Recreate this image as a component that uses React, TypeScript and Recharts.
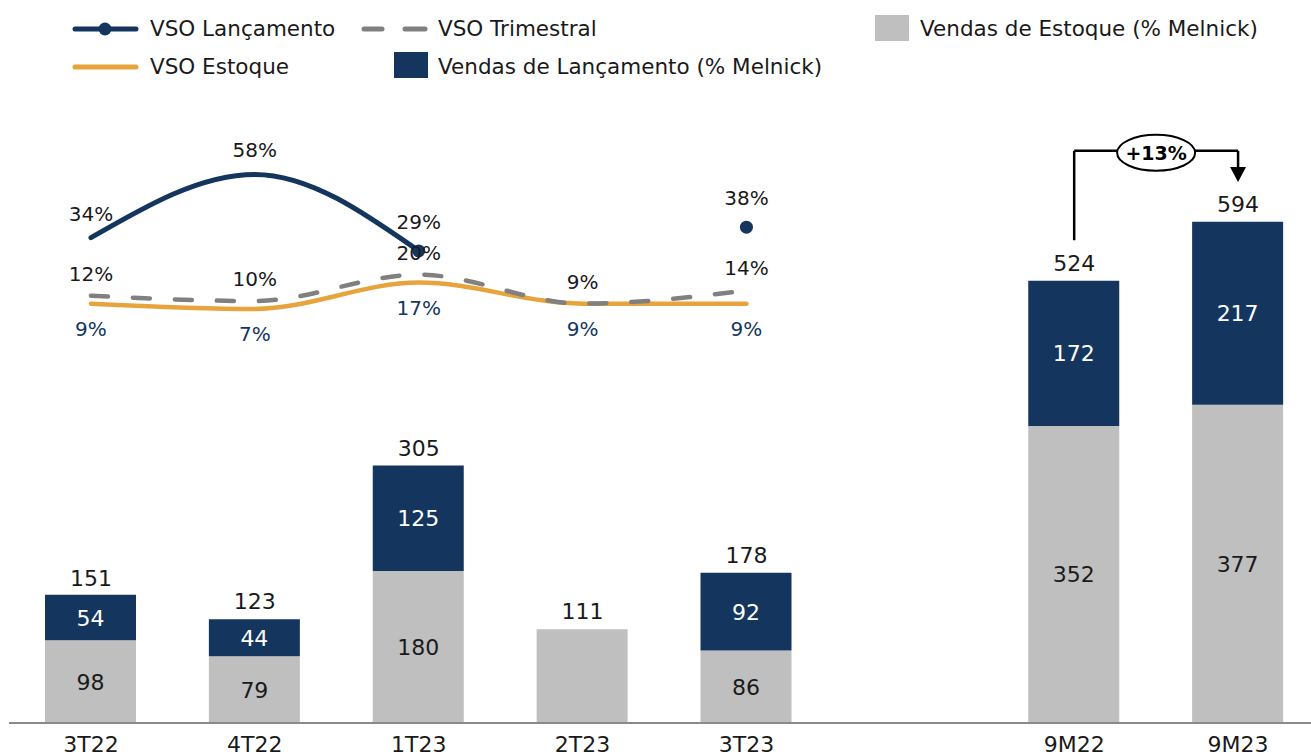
import React from 'react';
import { ComposedChart, Bar, Line, XAxis, YAxis, LabelList, ReferenceLine } from 'recharts';

const categories = ['3T22', '4T22', '1T23', '2T23', '3T23', ' ', '9M22', '9M23'];
const vendasEstoque = [98, 79, 180, 111, 86, null, 352, 377];
const vendasLancamento = [54, 44, 125, null, 92, null, 172, 217];
const totals = [151, 123, 305, 111, 178, null, 524, 594];
const vsoLancamento = [34, 58, 29, null, 38, null, null, null];
const vsoTrimestral = [12, 10, 20, 9, 14, null, null, null];
const vsoEstoque = [9, 7, 17, 9, 9, null, null, null];

const NAVY = '#14365E';
const GRAY_BAR = '#BFBFBF';
const DASH_GRAY = '#808080';
const ORANGE = '#E8A43C';
const TEXT = '#1a1a1a';
const FONT = '"DejaVu Sans", sans-serif';

const data = categories.map((c, i) => ({
  cat: c,
  estoque: vendasEstoque[i],
  // inside label of the stock segment is shown only when the bar is stacked
  estoqueInside: vendasLancamento[i] != null ? vendasEstoque[i] : null,
  lanc: vendasLancamento[i],
  total: totals[i],
  vsoL: vsoLancamento[i],
  vsoT: vsoTrimestral[i],
  vsoE: vsoEstoque[i],
}));

// annotation (bar-axis units)
const fromIdx = categories.indexOf('9M22');
const toIdx = categories.indexOf('9M23');
const growth = Math.round((totals[toIdx]! / totals[fromIdx]! - 1) * 100);
const BRACKET_START = 572;
const BRACKET_TOP = 678;
const ARROW_TIP = 641;

const Tick = (props: any) => {
  const { x, y, payload } = props;
  return (
    <text x={x} y={y + 29} textAnchor="middle" fill={TEXT} fontSize={22} fontFamily={FONT}>
      {String(payload.value).trim()}
    </text>
  );
};

const insideLabel = (color: string) => (props: any) => {
  const { x, y, width, height, value } = props;
  if (value == null) return null;
  return (
    <text x={x + width / 2} y={y + height / 2 + 8} textAnchor="middle" fill={color} fontSize={22} fontFamily={FONT}>
      {value}
    </text>
  );
};

const totalLabel = (props: any) => {
  const { x, y, value } = props;
  if (value == null) return null;
  return (
    <text x={x} y={y - 10} textAnchor="middle" fill={TEXT} fontSize={22} fontFamily={FONT}>
      {value}
    </text>
  );
};

const hasDot = (i: number) => vsoLancamento[i] != null && vsoLancamento[i + 1] == null;

const lancLabel = (props: any) => {
  const { x, y, value, index } = props;
  if (value == null) return null;
  const off = hasDot(index) ? 22 : 17;
  return (
    <text x={x} y={y - off} textAnchor="middle" fill={TEXT} fontSize={20} fontFamily={FONT}>
      {value}%
    </text>
  );
};

const triLabel = (props: any) => {
  const { x, y, value } = props;
  if (value == null) return null;
  return (
    <text x={x} y={y - 15} textAnchor="middle" fill={TEXT} fontSize={20} fontFamily={FONT}>
      {value}%
    </text>
  );
};

const estLabel = (props: any) => {
  const { x, y, value } = props;
  if (value == null) return null;
  return (
    <text x={x} y={y + 32} textAnchor="middle" fill={NAVY} fontSize={20} fontFamily={FONT}>
      {value}%
    </text>
  );
};

const lancDot = (props: any) => {
  const { cx, cy, index } = props;
  if (cy == null || !hasDot(index)) return <g key={`d${index}`} />;
  return <circle key={`d${index}`} cx={cx} cy={cy} r={6.5} fill={NAVY} />;
};

const topShape = (p: any) => {
  const { x1, y1, x2, y2 } = p;
  const cx = (x1 + x2) / 2;
  return (
    <g>
      <line x1={x1} y1={y1} x2={x2} y2={y2} stroke="#000" strokeWidth={2.5} />
      <ellipse cx={cx} cy={y1 + 2} rx={39} ry={18} fill="#fff" stroke="#000" strokeWidth={2} />
      <text x={cx} y={y1 + 9} textAnchor="middle" fontWeight="bold" fontSize={19} fill="#000" fontFamily={FONT}>
        +{growth}%
      </text>
    </g>
  );
};

const arrowShape = (p: any) => {
  const { x1, y1, x2, y2 } = p;
  const head = 15;
  return (
    <g>
      <line x1={x1} y1={y1} x2={x2} y2={y2 - head} stroke="#000" strokeWidth={2.5} />
      <polygon points={`${x2 - 8},${y2 - head} ${x2 + 8},${y2 - head} ${x2},${y2}`} fill="#000" />
    </g>
  );
};

const Legend = () => {
  const txt = { position: 'absolute' as const, fontFamily: FONT, fontSize: 21.5, color: TEXT, whiteSpace: 'nowrap' as const, lineHeight: '24px' };
  return (
    <div style={{ position: 'absolute', left: 0, top: 0, width: 1311, height: 90 }}>
      <svg width={1311} height={90} style={{ position: 'absolute', left: 0, top: 0 }}>
        <line x1={75} y1={29} x2={136} y2={29} stroke={NAVY} strokeWidth={5} strokeLinecap="round" />
        <circle cx={105} cy={29} r={6.5} fill={NAVY} />
        <line x1={364} y1={29} x2={382} y2={29} stroke={DASH_GRAY} strokeWidth={5} strokeLinecap="round" />
        <line x1={405} y1={29} x2={425} y2={29} stroke={DASH_GRAY} strokeWidth={5} strokeLinecap="round" />
        <rect x={875} y={15} width={34} height={26} fill={GRAY_BAR} />
        <line x1={75} y1={67} x2={136} y2={67} stroke={ORANGE} strokeWidth={5} strokeLinecap="round" />
        <rect x={394} y={52} width={34} height={26} fill={NAVY} />
      </svg>
      <div style={{ ...txt, left: 150, top: 17 }}>VSO Lançamento</div>
      <div style={{ ...txt, left: 438, top: 17 }}>VSO Trimestral</div>
      <div style={{ ...txt, left: 920, top: 17 }}>Vendas de Estoque (% Melnick)</div>
      <div style={{ ...txt, left: 150, top: 55 }}>VSO Estoque</div>
      <div style={{ ...txt, left: 438, top: 55 }}>Vendas de Lançamento (% Melnick)</div>
    </div>
  );
};

export default function App() {
  return (
    <div style={{ position: 'absolute', left: 0, top: 0, width: 1311, height: 756, overflow: 'hidden', background: '#fff' }}>
      <Legend />
      <div style={{ position: 'absolute', left: 0, top: 0 }}>
        <ComposedChart width={1321} height={756} data={data} margin={{ top: 90, right: 1, bottom: 0, left: 9 }}>
          <XAxis
            dataKey="cat"
            height={33}
            tickSize={0}
            tickMargin={0}
            tickLine={false}
            axisLine={{ stroke: '#8a8a8a', strokeWidth: 2 }}
            tick={<Tick />}
            interval={0}
          />
          <YAxis yAxisId="bar" hide domain={[0, 750]} />
          <YAxis yAxisId="line" hide domain={[-150, 90]} />
          <Bar yAxisId="bar" dataKey="estoque" stackId="a" fill={GRAY_BAR} barSize={91} isAnimationActive={false}>
            <LabelList dataKey="estoqueInside" content={insideLabel(TEXT)} />
          </Bar>
          <Bar yAxisId="bar" dataKey="lanc" stackId="a" fill={NAVY} barSize={91} isAnimationActive={false}>
            <LabelList dataKey="lanc" content={insideLabel('#ffffff')} />
          </Bar>
          <Line yAxisId="bar" dataKey="total" stroke="none" dot={false} activeDot={false} isAnimationActive={false} label={totalLabel} />
          <Line
            yAxisId="line"
            type="monotone"
            dataKey="vsoE"
            stroke={ORANGE}
            strokeWidth={4.5}
            strokeLinecap="round"
            dot={false}
            activeDot={false}
            isAnimationActive={false}
            label={estLabel}
          />
          <Line
            yAxisId="line"
            type="monotone"
            dataKey="vsoT"
            stroke={DASH_GRAY}
            strokeWidth={4.5}
            strokeDasharray="17 25"
            strokeLinecap="round"
            dot={false}
            activeDot={false}
            isAnimationActive={false}
            label={triLabel}
          />
          <Line
            yAxisId="line"
            type="monotone"
            dataKey="vsoL"
            stroke={NAVY}
            strokeWidth={5}
            strokeLinecap="round"
            dot={lancDot}
            activeDot={false}
            isAnimationActive={false}
            label={lancLabel}
          />
          <ReferenceLine
            yAxisId="bar"
            segment={[{ x: '9M22', y: BRACKET_START }, { x: '9M22', y: BRACKET_TOP }]}
            stroke="#000"
            strokeWidth={2.5}
          />
          <ReferenceLine
            yAxisId="bar"
            segment={[{ x: '9M22', y: BRACKET_TOP }, { x: '9M23', y: BRACKET_TOP }]}
            stroke="#000"
            shape={topShape}
          />
          <ReferenceLine
            yAxisId="bar"
            segment={[{ x: '9M23', y: BRACKET_TOP }, { x: '9M23', y: ARROW_TIP }]}
            stroke="#000"
            shape={arrowShape}
          />
        </ComposedChart>
      </div>
    </div>
  );
}
